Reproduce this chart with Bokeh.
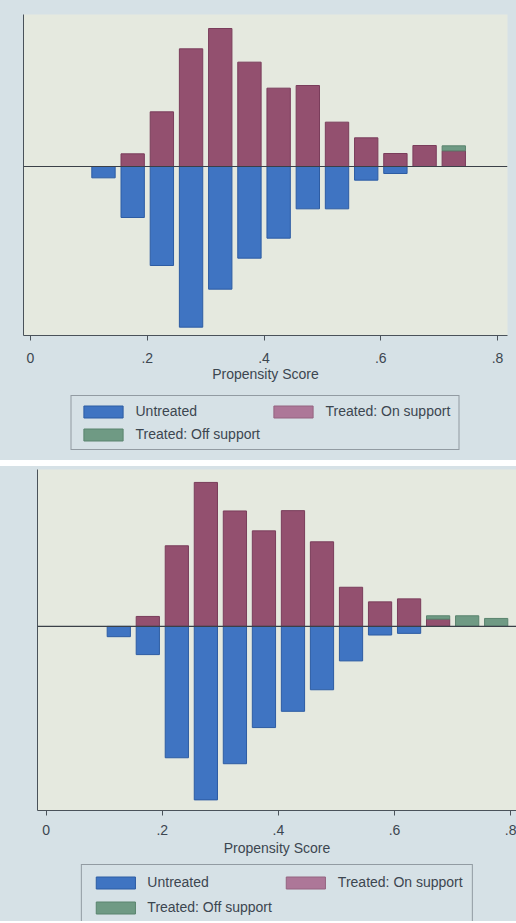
from bokeh.plotting import figure
from bokeh.models import (ColumnDataSource, Range1d, FixedTicker, Span, Legend,
                          LegendItem)
from bokeh.layouts import column
from bokeh.embed import file_html
from bokeh.resources import INLINE

# ---------------- data ----------------
bins_top = [0.125, 0.175, 0.225, 0.275, 0.325, 0.375, 0.425, 0.475, 0.525,
            0.575, 0.625, 0.675, 0.725]
untreated_top = [3.4, 15.3, 29.7, 48.2, 36.8, 27.5, 21.5, 12.7, 12.7, 4.1,
                 2.1, 0, 0]
treated_on_top = [0, 3.8, 16.4, 35.3, 41.4, 31.3, 23.5, 24.3, 13.3, 8.6, 3.9,
                  6.3, 4.7]
treated_off_top = [0, 0, 0, 0, 0, 0, 0, 0, 0, 0, 0, 0, 1.5]

bins_bottom = [0.125, 0.175, 0.225, 0.275, 0.325, 0.375, 0.425, 0.475, 0.525,
               0.575, 0.625, 0.675, 0.725, 0.775]
untreated_bottom = [3.1, 8.5, 39.6, 52.3, 41.4, 30.5, 25.6, 19.1, 10.4, 2.6,
                    2.1, 0, 0, 0]
treated_on_bottom = [0, 3.0, 24.3, 43.4, 34.8, 28.8, 34.9, 25.5, 11.8, 7.4,
                     8.3, 2.2, 0, 0]
treated_off_bottom = [0, 0, 0, 0, 0, 0, 0, 0, 0, 0, 0, 1.0, 3.2, 2.4]

tick_values = [0, 0.2, 0.4, 0.6, 0.8]
tick_labels = ["0", ".2", ".4", ".6", ".8"]
x_title = "Propensity Score"
legend_labels = ["Untreated", "Treated: On support", "Treated: Off support"]

# ---------------- style ----------------
BLUE = "#3f74c2"
BLUE_EDGE = "#2d5ca3"
PINK = "#93506f"
PINK_EDGE = "#7a3d5b"
PINK_KEY = "#ad7798"
PINK_KEY_EDGE = "#946480"
GREEN = "#6f9a84"
GREEN_EDGE = "#5a846e"
PLOT_BG = "#e5e9df"
GRAPH_BG = "#d6e1e6"
TEXT = "#3c4650"
AXIS = "#4a525a"
FONT = "Liberation Sans"
BAR_W = 0.04


def make_chart(bins, untreated, t_on, t_off, x_rng, y_rng, w, h, borders,
               tick_standoff, title_standoff):
    p = figure(width=w, height=h, output_backend="svg", toolbar_location=None,
               x_range=Range1d(*x_rng), y_range=Range1d(*y_rng))
    p.min_border_left, p.min_border_right, p.min_border_top, p.min_border_bottom = borders
    p.background_fill_color = PLOT_BG
    p.border_fill_color = GRAPH_BG
    p.outline_line_color = None
    p.grid.visible = False

    u_src = ColumnDataSource(dict(
        x=[b for b, v in zip(bins, untreated) if v > 0],
        top=[0 for v in untreated if v > 0],
        bottom=[-v for v in untreated if v > 0]))
    on_src = ColumnDataSource(dict(
        x=[b for b, v in zip(bins, t_on) if v > 0],
        top=[v for v in t_on if v > 0],
        bottom=[0 for v in t_on if v > 0]))
    off_src = ColumnDataSource(dict(
        x=[b for b, o in zip(bins, t_off) if o > 0],
        bottom=[v for v, o in zip(t_on, t_off) if o > 0],
        top=[v + o for v, o in zip(t_on, t_off) if o > 0]))

    p.vbar(x="x", top="top", bottom="bottom", width=BAR_W, source=u_src,
           fill_color=BLUE, line_color=BLUE_EDGE, line_width=1)
    p.vbar(x="x", top="top", bottom="bottom", width=BAR_W, source=on_src,
           fill_color=PINK, line_color=PINK_EDGE, line_width=1)
    p.vbar(x="x", top="top", bottom="bottom", width=BAR_W, source=off_src,
           fill_color=GREEN, line_color=GREEN_EDGE, line_width=1)

    p.add_layout(Span(location=0, dimension="width", line_color="#3a4048",
                      line_width=1.2))

    xa = p.xaxis[0]
    xa.ticker = FixedTicker(ticks=tick_values)
    xa.major_label_overrides = {v: s for v, s in zip(tick_values, tick_labels)}
    xa.minor_tick_line_color = None
    xa.major_tick_out = 5
    xa.major_tick_in = 0
    xa.axis_line_color = AXIS
    xa.major_tick_line_color = AXIS
    xa.major_label_text_font = FONT
    xa.major_label_text_font_size = "14px"
    xa.major_label_text_color = TEXT
    xa.major_label_standoff = tick_standoff
    xa.axis_label = x_title
    xa.axis_label_text_font = FONT
    xa.axis_label_text_font_size = "14px"
    xa.axis_label_text_font_style = "normal"
    xa.axis_label_text_color = TEXT
    xa.axis_label_standoff = title_standoff

    ya = p.yaxis[0]
    ya.ticker = FixedTicker(ticks=[])
    ya.major_tick_line_color = None
    ya.minor_tick_line_color = None
    ya.major_tick_out = 0
    ya.major_tick_in = 0
    ya.major_label_standoff = 0
    ya.axis_label_standoff = 0
    ya.axis_line_color = AXIS
    return p


def make_legend(w, h, margin, padding, spacing, label_width):
    q = figure(width=w, height=h, output_backend="svg", toolbar_location=None,
               x_range=Range1d(0, 1), y_range=Range1d(0, 1),
               x_axis_type=None, y_axis_type=None)
    q.min_border_left = q.min_border_right = 0
    q.min_border_top = q.min_border_bottom = 0
    q.background_fill_color = GRAPH_BG
    q.border_fill_color = GRAPH_BG
    q.outline_line_color = None
    q.grid.visible = False
    nothing = dict(x=[float("nan")], top=[float("nan")])
    r_u = q.vbar(x="x", top="top", width=0.1, source=ColumnDataSource(nothing),
                 fill_color=BLUE, line_color=BLUE_EDGE)
    r_on = q.vbar(x="x", top="top", width=0.1, source=ColumnDataSource(nothing),
                  fill_color=PINK_KEY, line_color=PINK_KEY_EDGE)
    r_off = q.vbar(x="x", top="top", width=0.1, source=ColumnDataSource(nothing),
                   fill_color=GREEN, line_color=GREEN_EDGE)
    items = [LegendItem(label=legend_labels[0], renderers=[r_u]),
             LegendItem(label=legend_labels[1], renderers=[r_on]),
             LegendItem(label=legend_labels[2], renderers=[r_off])]
    legend = Legend(items=items, orientation="horizontal", ncols=2,
                    location="top_center")
    legend.glyph_width = 49
    legend.glyph_height = 15
    legend.label_height = 15
    legend.label_width = label_width
    legend.label_standoff = 8
    legend.spacing = spacing
    legend.padding = padding
    legend.margin = margin
    legend.label_text_font = FONT
    legend.label_text_font_size = "14px"
    legend.label_text_color = TEXT
    legend.background_fill_color = GRAPH_BG
    legend.background_fill_alpha = 1
    legend.border_line_color = "#4e565e"
    legend.border_line_width = 1
    q.add_layout(legend, "center")
    return q


p1 = make_chart(bins_top, untreated_top, treated_on_top, treated_off_top,
                (-0.012, 0.817), (-50.7, 45.6), 516, 390, (23, 9, 14, 55), 12, 0)
l1 = make_legend(516, 70, 5, 7, 7, 126)
p2 = make_chart(bins_bottom, untreated_bottom, treated_on_bottom,
                treated_off_bottom, (-0.015, 0.810), (-55.5, 47.3), 516, 398,
                (37, 0, 3, 54), 9, 2)
l2 = make_legend(516, 57, 0, 9, 9, 120)

bg = {"background-color": GRAPH_BG}
layout = column(column(p1, l1, spacing=0, styles=bg),
                column(p2, l2, spacing=0, styles=bg), spacing=6)
open("out.html", "w").write(file_html(layout, INLINE))
